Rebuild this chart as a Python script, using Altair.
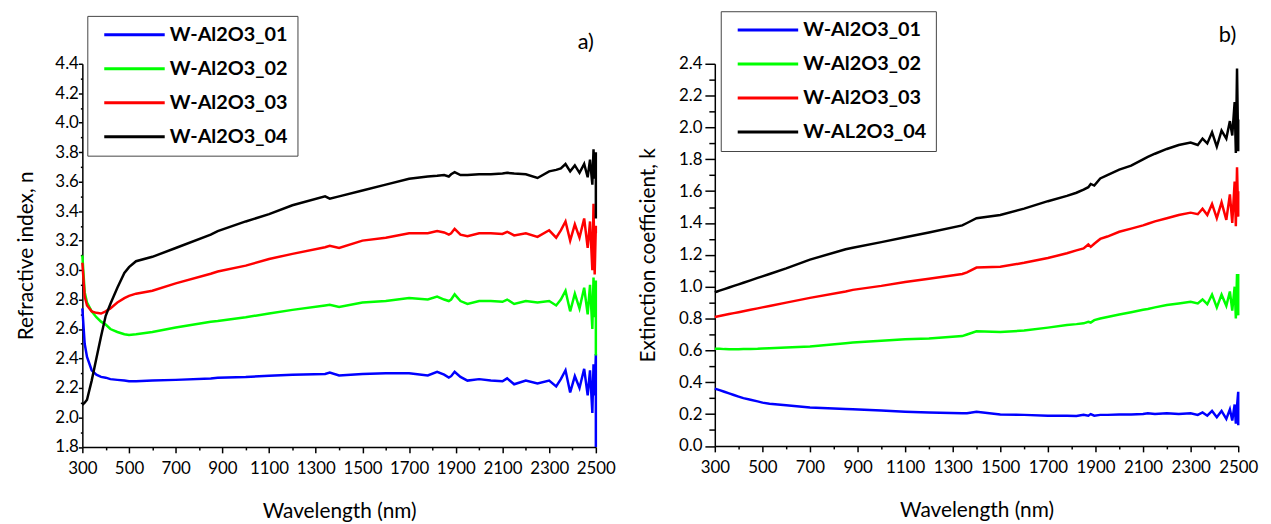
import altair as alt
import pandas as pd

# Wavelength grid (nm); the last 2500 repeats for the vertical end spike
WAVELENGTH = [300, 310, 320, 340, 360, 380, 400, 420, 450, 480,
              500, 530, 600, 700, 850, 880, 1000, 1100, 1200, 1340,
              1360, 1400, 1500, 1600, 1700, 1780, 1820, 1850, 1870, 1880,
              1895, 1920, 1950, 2000, 2050, 2100, 2120, 2150, 2200, 2250,
              2300, 2330, 2350, 2370, 2390, 2410, 2430, 2450, 2465, 2475,
              2485, 2490, 2495, 2500, 2500]

# Panel a) refractive index n
N_01 = [2.74, 2.50, 2.41, 2.32, 2.29, 2.275, 2.27, 2.26, 2.255, 2.25,
        2.245, 2.245, 2.25, 2.255, 2.265, 2.27, 2.275, 2.283, 2.29, 2.295,
        2.305, 2.285, 2.295, 2.30, 2.30, 2.285, 2.31, 2.29, 2.27, 2.28,
        2.31, 2.275, 2.25, 2.26, 2.25, 2.245, 2.265, 2.225, 2.25, 2.23,
        2.25, 2.21, 2.26, 2.32, 2.17, 2.28, 2.20, 2.33, 2.15, 2.32,
        2.03, 2.36, 2.15, 2.43, 1.80]
N_02 = [3.10, 2.85, 2.78, 2.72, 2.68, 2.65, 2.63, 2.60, 2.58, 2.565,
        2.56, 2.565, 2.58, 2.61, 2.65, 2.655, 2.68, 2.705, 2.73, 2.76,
        2.765, 2.75, 2.78, 2.79, 2.81, 2.80, 2.82, 2.80, 2.79, 2.80,
        2.835, 2.79, 2.77, 2.79, 2.79, 2.785, 2.80, 2.77, 2.79, 2.78,
        2.79, 2.76, 2.80, 2.86, 2.72, 2.84, 2.74, 2.88, 2.70, 2.90,
        2.60, 2.95, 2.68, 2.93, 2.42]
N_03 = [3.05, 2.82, 2.76, 2.72, 2.71, 2.705, 2.72, 2.74, 2.78, 2.81,
        2.825, 2.84, 2.86, 2.91, 2.975, 2.99, 3.03, 3.075, 3.11, 3.155,
        3.165, 3.15, 3.20, 3.22, 3.25, 3.25, 3.265, 3.255, 3.24, 3.25,
        3.28, 3.24, 3.23, 3.25, 3.25, 3.245, 3.26, 3.235, 3.25, 3.225,
        3.27, 3.22, 3.27, 3.33, 3.20, 3.31, 3.22, 3.35, 3.15, 3.33,
        3.00, 3.45, 2.97, 3.30, 3.25]
N_04 = [2.085, 2.10, 2.12, 2.25, 2.40, 2.55, 2.69, 2.77, 2.88, 2.98,
        3.02, 3.06, 3.09, 3.15, 3.24, 3.265, 3.33, 3.38, 3.44, 3.50,
        3.485, 3.50, 3.54, 3.58, 3.62, 3.635, 3.64, 3.645, 3.635, 3.65,
        3.665, 3.645, 3.645, 3.65, 3.65, 3.655, 3.66, 3.655, 3.65, 3.625,
        3.67, 3.68, 3.69, 3.72, 3.67, 3.71, 3.66, 3.72, 3.63, 3.75,
        3.58, 3.82, 3.62, 3.80, 3.35]

# Panel b) extinction coefficient k
K_01 = [0.36, 0.355, 0.35, 0.34, 0.33, 0.32, 0.31, 0.30, 0.29, 0.28,
        0.272, 0.265, 0.255, 0.242, 0.232, 0.23, 0.222, 0.215, 0.21, 0.205,
        0.205, 0.215, 0.198, 0.195, 0.19, 0.19, 0.188, 0.195, 0.19, 0.20,
        0.19, 0.195, 0.195, 0.198, 0.198, 0.20, 0.205, 0.20, 0.205, 0.20,
        0.205, 0.195, 0.21, 0.19, 0.22, 0.18, 0.22, 0.17, 0.23, 0.16,
        0.26, 0.14, 0.25, 0.34, 0.13]
K_02 = [0.61, 0.61, 0.61, 0.608, 0.607, 0.607, 0.607, 0.608, 0.608, 0.61,
        0.612, 0.614, 0.618, 0.625, 0.645, 0.65, 0.66, 0.67, 0.675, 0.69,
        0.70, 0.72, 0.715, 0.725, 0.743, 0.76, 0.765, 0.77, 0.78, 0.775,
        0.79, 0.80, 0.81, 0.825, 0.84, 0.855, 0.86, 0.87, 0.885, 0.895,
        0.905, 0.895, 0.92, 0.89, 0.95, 0.87, 0.95, 0.88, 0.97, 0.85,
        1.00, 0.80, 1.08, 0.82, 1.08]
K_03 = [0.81, 0.813, 0.816, 0.822, 0.828, 0.834, 0.84, 0.846, 0.855, 0.864,
        0.87, 0.879, 0.90, 0.93, 0.97, 0.98, 1.005, 1.03, 1.05, 1.08,
        1.09, 1.12, 1.125, 1.15, 1.18, 1.21, 1.228, 1.24, 1.265, 1.25,
        1.27, 1.30, 1.315, 1.345, 1.365, 1.385, 1.395, 1.41, 1.43, 1.45,
        1.465, 1.455, 1.49, 1.45, 1.52, 1.43, 1.53, 1.42, 1.58, 1.40,
        1.66, 1.38, 1.75, 1.44, 1.60]
K_04 = [0.965, 0.97, 0.975, 0.985, 0.995, 1.005, 1.015, 1.025, 1.04, 1.055,
        1.065, 1.08, 1.115, 1.17, 1.235, 1.245, 1.28, 1.31, 1.34, 1.385,
        1.40, 1.43, 1.45, 1.49, 1.537, 1.57, 1.59, 1.61, 1.625, 1.645,
        1.635, 1.68, 1.70, 1.735, 1.76, 1.80, 1.815, 1.835, 1.865, 1.89,
        1.905, 1.89, 1.93, 1.90, 1.97, 1.88, 1.98, 1.93, 2.04, 1.95,
        2.16, 1.84, 2.37, 1.85, 2.05]

NAMES_A = ["W-Al2O3_01", "W-Al2O3_02", "W-Al2O3_03", "W-Al2O3_04"]
NAMES_B = ["W-Al2O3_01", "W-Al2O3_02", "W-Al2O3_03", "W-AL2O3_04"]
COLORS = ["#0000ff", "#00ff00", "#ff0000", "#000000"]

X_TICKS = list(range(300, 2501, 100))
Y_TICKS_A = [round(1.8 + 0.1 * i, 1) for i in range(27)]
Y_TICKS_B = [round(0.0 + 0.1 * i, 1) for i in range(25)]

# panel tags and their positions in data coordinates
TAG_A = {"text": "a)", "wl": 2457, "v": 4.548}
TAG_B = {"text": "b)", "wl": 2455, "v": 2.58}

FONT = "Lato"


def long_table(names, series):
    rows = []
    for name, vals in zip(names, series):
        for i, (w, v) in enumerate(zip(WAVELENGTH, vals)):
            rows.append({"wl": w, "v": v, "series": name, "i": i})
    return pd.DataFrame(rows)


def panel(names, series, ytitle, ydomain, yticks, tag, w, h, lx, ly,
          ytick_major, ytick_minor, ylabel_pad, ytitle_pad):
    df = long_table(names, series)
    xscale = alt.Scale(domain=[300, 2500], nice=False, zero=False)
    yscale = alt.Scale(domain=ydomain, nice=False, zero=False)
    x_axis = alt.Axis(
        values=X_TICKS,
        labelExpr="datum.value % 200 == 0 ? '' : format(datum.value, 'd')",
        tickSize={"condition": {"test": "datum.value % 200 == 0", "value": 3}, "value": 6},
        labelFlush=False, labelOverlap=False, labelSeparation=0, grid=False,
        labelPadding=8, titlePadding=24,
        title="Wavelength (nm)",
    )
    y_axis = alt.Axis(
        values=yticks,
        labelExpr="round(datum.value * 10) % 2 == 1 ? '' : format(datum.value, '.1f')",
        tickSize={"condition": {"test": "round(datum.value * 10) % 2 == 1", "value": ytick_minor},
                  "value": ytick_major},
        labelFlush=False, labelOverlap=False, labelSeparation=0, grid=False,
        labelPadding=ylabel_pad, titlePadding=ytitle_pad,
        title=ytitle,
    )
    legend = alt.Legend(
        orient="none", legendX=lx, legendY=ly, title=None,
        symbolType="stroke", symbolSize=3721, symbolStrokeWidth=3,
        labelFont=FONT, labelFontSize=20, labelFontWeight="bold", labelColor="black",
        labelExpr="datum.label + '  '",
        strokeColor="#444444", fillColor="white", padding=9, rowPadding=14.3,
        clipHeight=20, symbolOffset=6.6, labelOffset=3.6, labelLimit=400,
    )
    x_enc = alt.X("wl:Q", scale=xscale, axis=x_axis)
    y_enc = alt.Y("v:Q", scale=yscale, axis=y_axis)
    lines = alt.Chart(df).mark_line(strokeWidth=2.5).encode(
        x=x_enc,
        y=y_enc,
        color=alt.Color("series:N", scale=alt.Scale(domain=names, range=COLORS), legend=legend),
        order=alt.Order("i:Q"),
    )
    label = alt.Chart(pd.DataFrame([tag])).mark_text(
        font=FONT, fontSize=22, color="black", align="center", baseline="middle"
    ).encode(
        x=x_enc,
        y=y_enc,
        text="text:N",
    )
    return alt.layer(lines, label).properties(width=w, height=h)


left = panel(NAMES_A, [N_01, N_02, N_03, N_04], "Refractive index, n", [1.8, 4.4],
             Y_TICKS_A, TAG_A, 518, 386.5, 5, -48.3, 4, 2, 0, 19)
right = panel(NAMES_B, [K_01, K_02, K_03, K_04], "Extinction coefficient, k", [0.0, 2.4],
              Y_TICKS_B, TAG_B, 528, 385.5, 6, -53, 10, 6, 3, 20)

chart = alt.hconcat(left, right, spacing=22).resolve_scale(
    color="independent"
).properties(
    padding={"left": 7, "top": 0, "right": 5, "bottom": 0}
).configure(
    background="white"
).configure_view(
    strokeWidth=0
).configure_axis(
    domainColor="black", domainWidth=1.5, tickColor="black", tickWidth=1.5,
    labelFont=FONT, labelFontSize=17, labelColor="black",
    titleFont=FONT, titleFontSize=21, titleFontWeight="normal", titleColor="black",
)

chart.save("out.html", embed_options={"renderer": "svg", "actions": False})
